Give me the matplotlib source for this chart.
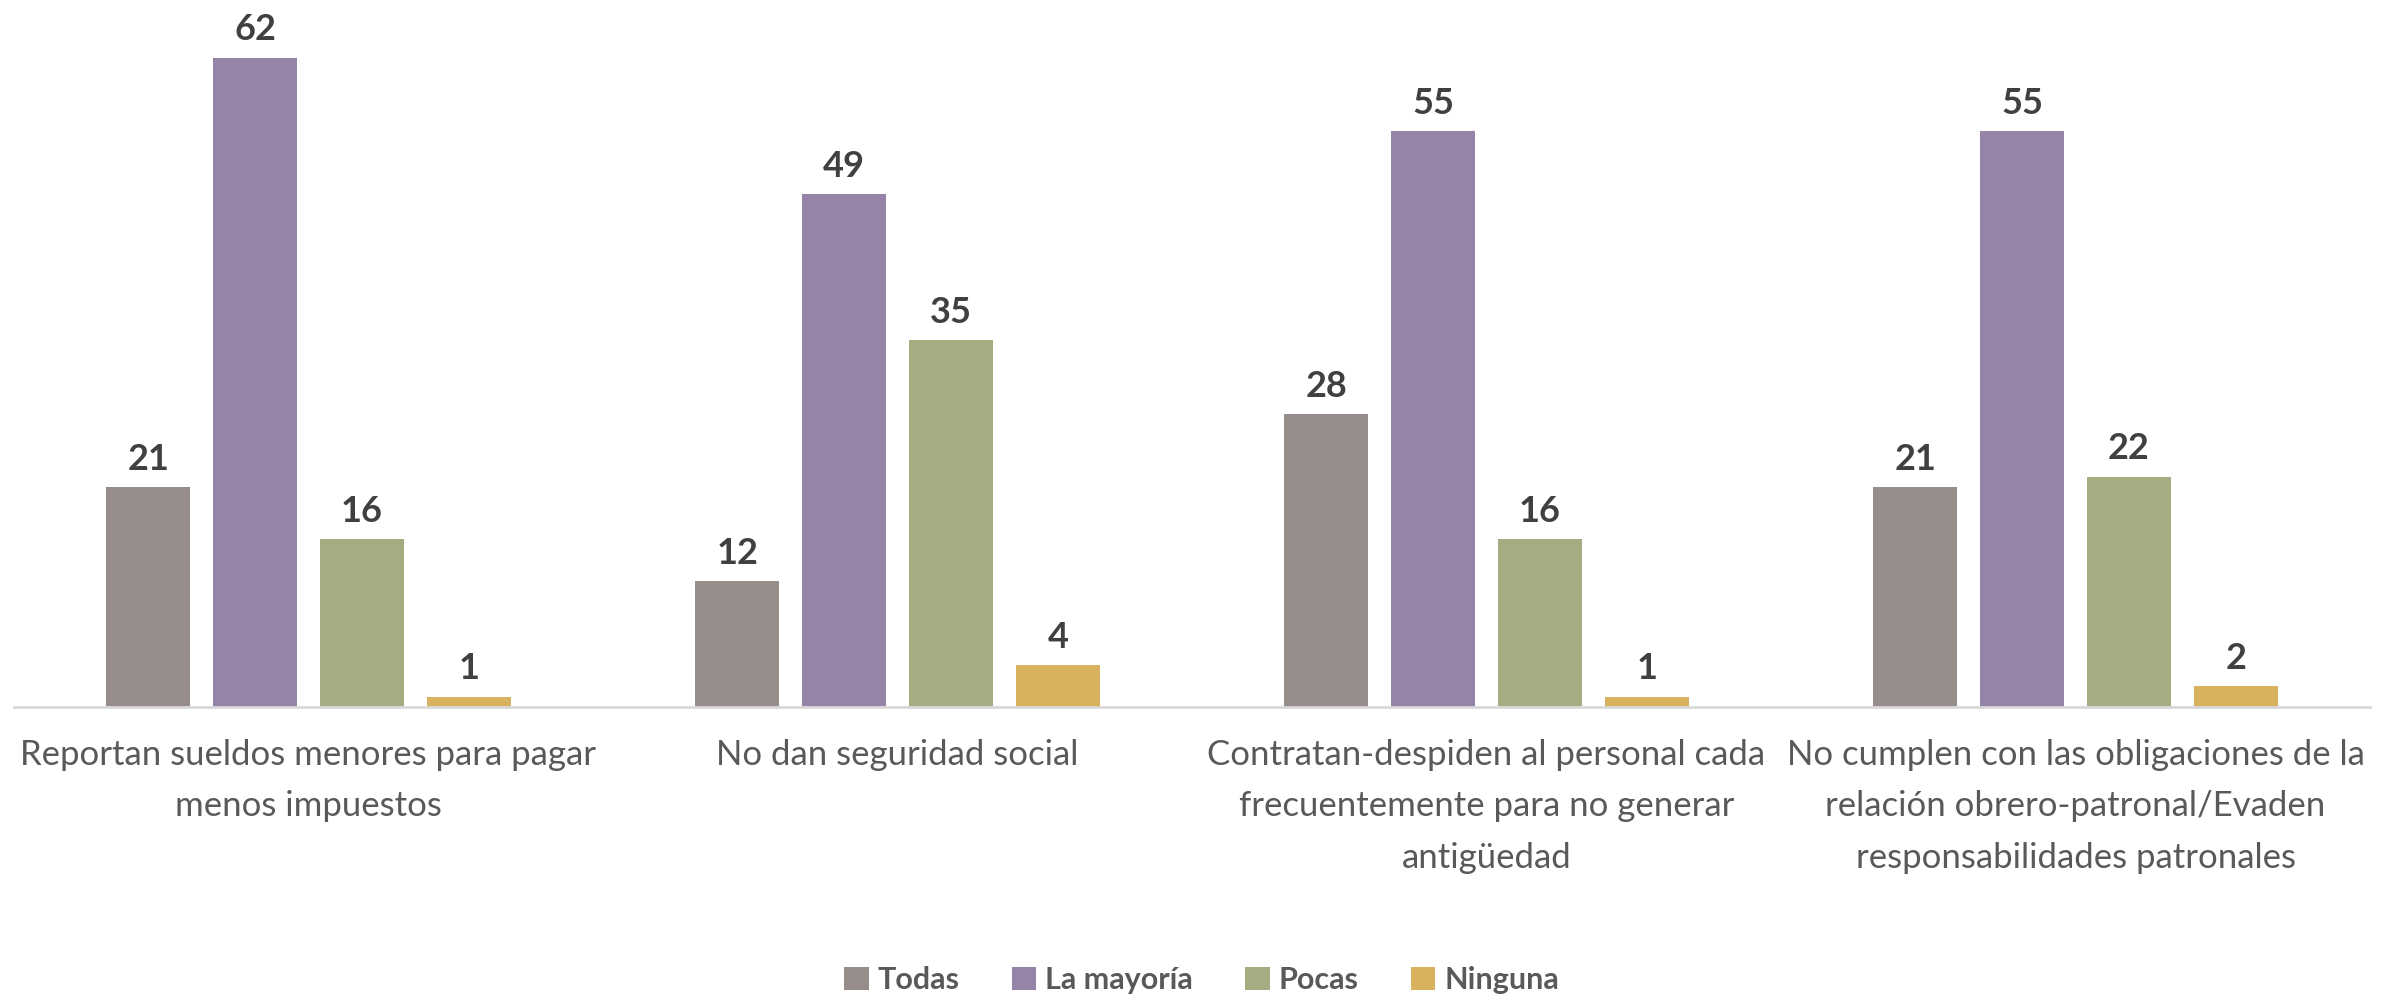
import matplotlib.pyplot as plt
import numpy as np

# ------------- Datos -------------
categorias = [
    "Reportan sueldos menores para pagar\nmenos impuestos",
    "No dan seguridad social",
    "Contratan-despiden al personal cada\nfrecuentemente para no generar\nantigüedad",
    "No cumplen con las obligaciones de la\nrelación obrero-patronal/Evaden\nresponsabilidades patronales",
]
series = ["Todas", "La mayoría", "Pocas", "Ninguna"]
todas = [21, 12, 28, 21]
la_mayoria = [62, 49, 55, 55]
pocas = [16, 35, 16, 22]
ninguna = [1, 4, 1, 2]

colores = ["#968c8a", "#9583a8", "#a5ac81", "#d8b25e"]

plt.rcParams['font.family'] = ['Lato', 'DejaVu Sans']

fig = plt.figure(figsize=(23.89, 10.01), dpi=100)
ax = fig.add_axes([14 / 2389, 1 - 707 / 1001, 2356 / 2389, 707 / 1001])

x = np.arange(len(categorias))
ancho = 0.1425
paso = 0.1815

for i, (nombre, valores) in enumerate(zip(series, [todas, la_mayoria, pocas, ninguna])):
    offs = (i - 1.5) * paso
    barras = ax.bar(x + offs, valores, ancho, color=colores[i], label=nombre)
    ax.bar_label(barras, padding=8, fontsize=26, fontweight='bold', color='#404040')

ax.set_xlim(-0.5, len(categorias) - 0.5)
ax.set_ylim(0, 67.5)
ax.set_xticks(x)
ax.set_xticklabels(categorias, fontsize=25, color='#595959', linespacing=1.75)
ax.tick_params(axis='x', length=0, pad=23)
ax.set_yticks([])

for lado in ['top', 'right', 'left']:
    ax.spines[lado].set_visible(False)
ax.spines['bottom'].set_color('#d9d9d9')
ax.spines['bottom'].set_linewidth(2)

fig.legend(loc='center', bbox_to_anchor=(0.503, 1 - 980 / 1001), ncol=4, frameon=False,
           prop={'size': 22, 'weight': 'bold'}, labelcolor='#595959',
           handlelength=0.8, handleheight=0.8, handletextpad=0.3, columnspacing=1.7)

fig.savefig("out.png", dpi=100)
